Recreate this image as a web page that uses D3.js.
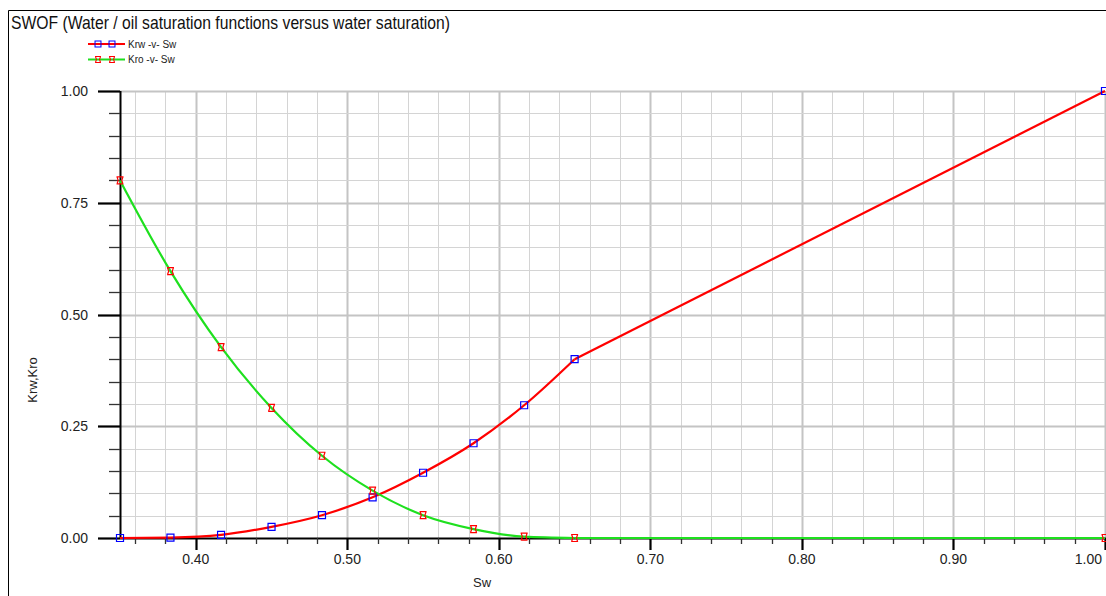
<!DOCTYPE html>
<html><head><meta charset="utf-8">
<script src="https://cdn.jsdelivr.net/npm/d3@7"></script>
<style>
html,body{margin:0;padding:0;background:#fff;}
svg{display:block;}
</style></head>
<body>
<svg id="c" width="1106" height="596"></svg>
<script>
// ---- data ----
const title = "SWOF (Water / oil saturation functions versus water saturation)";
const sw  = [0.35, 0.3833, 0.4167, 0.45, 0.4833, 0.5167, 0.55, 0.5833, 0.6167, 0.65, 1.0];
const krw = [0.0, 0.001, 0.007, 0.025, 0.051, 0.091, 0.146, 0.212, 0.297, 0.40, 1.0];
const kro = [0.80, 0.597, 0.427, 0.291, 0.184, 0.106, 0.051, 0.020, 0.003, 0.0, 0.0];
const seriesNames = ["Krw -v- Sw", "Kro -v- Sw"];
const xTicks = [0.40, 0.50, 0.60, 0.70, 0.80, 0.90, 1.00];
const yTicks = [0.00, 0.25, 0.50, 0.75, 1.00];
const xLabel = "Sw", yLabel = "Krw,Kro";

// ---- layout ----
const svg = d3.select("#c");
const L = 120, R = 1105, T = 91, B = 538;
const x = d3.scaleLinear().domain([0.35, 1.0]).range([L, R]);
const y = d3.scaleLinear().domain([0, 1]).range([B, T]);
const narrow = "'Liberation Sans Narrow','Liberation Sans',Arial,sans-serif";
const sans = "'Liberation Sans',Arial,sans-serif";

// frame
svg.append("path").attr("d", "M8.5,596 V10.5 H1106").attr("fill","none").attr("stroke","#000").attr("stroke-width",1);

// title
svg.append("text").attr("x", 11).attr("y", 29).attr("font-family", narrow).attr("font-size", 19)
  .attr("fill", "#111").attr("textLength", 439).attr("lengthAdjust","spacingAndGlyphs").text(title);

// grid
const xMinor = d3.range(0.36, 1.0001, 0.02).map(v => +v.toFixed(2));
const yMinor = d3.range(0.05, 1.0001, 0.05).map(v => +v.toFixed(2));
const grid = svg.append("g");
xMinor.forEach(v => {
  const major = Math.abs(v*10 - Math.round(v*10)) < 1e-6;
  grid.append("line").attr("x1", Math.round(x(v))+0.5).attr("x2", Math.round(x(v))+0.5).attr("y1", T).attr("y2", B)
    .attr("stroke", major ? "#c4c4c4" : "#d4d4d4").attr("stroke-width", major ? 2 : 1);
});
yMinor.forEach(v => {
  const major = Math.abs(v*4 - Math.round(v*4)) < 1e-6;
  grid.append("line").attr("x1", L).attr("x2", R).attr("y1", Math.round(y(v))+0.5).attr("y2", Math.round(y(v))+0.5)
    .attr("stroke", major ? "#c4c4c4" : "#d4d4d4").attr("stroke-width", major ? 2 : 1);
});

// axes
const ax = svg.append("g").attr("stroke", "#000");
ax.append("line").attr("x1", L+0.5).attr("x2", L+0.5).attr("y1", T).attr("y2", B+1).attr("stroke-width", 2);
ax.append("line").attr("x1", L).attr("x2", R+1).attr("y1", B+0.5).attr("y2", B+0.5).attr("stroke-width", 2);
// y ticks
yMinor.concat([0]).forEach(v => {
  const major = Math.abs(v*4 - Math.round(v*4)) < 1e-6;
  ax.append("line").attr("x1", major ? 98 : 109).attr("x2", L).attr("y1", Math.round(y(v))+0.5).attr("y2", Math.round(y(v))+0.5)
    .attr("stroke-width", major ? 2.2 : 1.3).attr("stroke", major ? "#000" : "#333");
});
// x ticks
xMinor.forEach(v => {
  const major = Math.abs(v*10 - Math.round(v*10)) < 1e-6;
  ax.append("line").attr("x1", Math.round(x(v))+0.5).attr("x2", Math.round(x(v))+0.5).attr("y1", B).attr("y2", major ? 550 : 544)
    .attr("stroke-width", major ? 2.2 : 1.3).attr("stroke", major ? "#000" : "#333");
});
// tick labels
svg.append("g").selectAll("text").data(yTicks).join("text")
  .attr("x", 88).attr("y", d => y(d) + 5).attr("text-anchor", "end")
  .attr("font-family", sans).attr("font-size", 14).attr("fill", "#222")
  .text(d => d3.format(".2f")(d));
svg.append("g").selectAll("text").data(xTicks).join("text")
  .attr("x", (d, i) => i === xTicks.length - 1 ? R - 3 : x(d)).attr("y", 564)
  .attr("text-anchor", (d, i) => i === xTicks.length - 1 ? "end" : "middle")
  .attr("font-family", sans).attr("font-size", 14).attr("fill", "#222")
  .text(d => d3.format(".2f")(d));
// axis labels
svg.append("text").attr("x", 482).attr("y", 587).attr("text-anchor","middle")
  .attr("font-family", sans).attr("font-size", 13).attr("fill","#222").text(xLabel);
svg.append("text").attr("transform","translate(37,380) rotate(-90)").attr("text-anchor","middle")
  .attr("font-family", sans).attr("font-size", 13).attr("fill","#222").text(yLabel);

// curves
const pts = (ys) => sw.map((s,i) => [s, ys[i]]);
const kinkIdx = 9;
function drawSeries(ys, color) {
  const p = pts(ys);
  const smooth = d3.line().x(d => x(d[0])).y(d => y(d[1])).curve(d3.curveMonotoneX);
  const lin = d3.line().x(d => x(d[0])).y(d => y(d[1]));
  svg.append("path").attr("d", smooth(p.slice(0, kinkIdx+1))).attr("fill","none").attr("stroke", color).attr("stroke-width", 2.2);
  svg.append("path").attr("d", lin(p.slice(kinkIdx))).attr("fill","none").attr("stroke", color).attr("stroke-width", 2.2);
}
const RED = "#ff0000", GREEN = "#1ee01e", BLUE = "#0000ff";
drawSeries(krw, RED);
drawSeries(kro, GREEN);

// markers
const sq = "M-3.5,-3.5H3.5V3.5H-3.5Z";
const hg = "M-3.5,-3.5H3.5M-3.5,3.5H3.5M-3,-3.5L-1.8,0L-3,3.5M3,-3.5L1.8,0L3,3.5";
svg.append("g").selectAll("path").data(pts(krw)).join("path")
  .attr("transform", d => `translate(${x(d[0])},${y(d[1])})`).attr("d", sq)
  .attr("fill","none").attr("stroke", BLUE).attr("stroke-width", 1.2);
svg.append("g").selectAll("path").data(pts(kro)).join("path")
  .attr("transform", d => `translate(${x(d[0])},${y(d[1])})`).attr("d", hg)
  .attr("fill","none").attr("stroke", RED).attr("stroke-width", 1.2);

// legend
const legend = [
  {name: seriesNames[0], line: RED, mk: sq, mc: BLUE},
  {name: seriesNames[1], line: GREEN, mk: hg, mc: RED}
];
legend.forEach((d, i) => {
  const ly = 44 + i*15.5;
  svg.append("line").attr("x1", 88).attr("x2", 125).attr("y1", ly).attr("y2", ly).attr("stroke", d.line).attr("stroke-width", 2);
  [98, 112].forEach(mx => svg.append("path").attr("transform", `translate(${mx},${ly}) scale(0.85)`).attr("d", d.mk)
    .attr("fill","none").attr("stroke", d.mc).attr("stroke-width", 1.2));
  svg.append("text").attr("x", 128).attr("y", ly + 3.5).attr("font-family", narrow).attr("font-size", 10)
    .attr("fill", "#222").text(d.name);
});
</script>
</body></html>
